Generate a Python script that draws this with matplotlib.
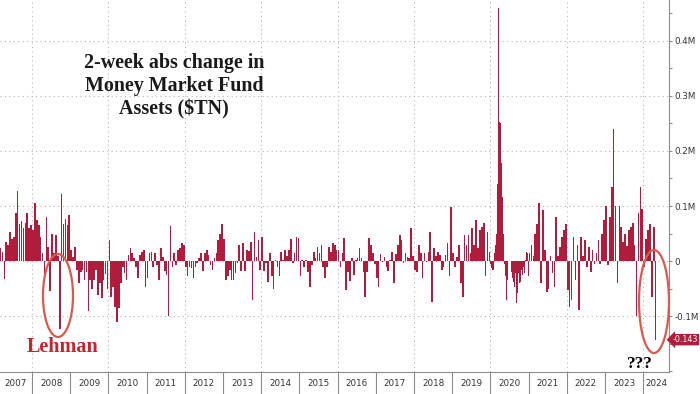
import numpy as np
import matplotlib
matplotlib.use("Agg")
import matplotlib.pyplot as plt
from matplotlib.patches import Ellipse
from matplotlib.transforms import blended_transform_factory

# 2-week absolute change in money market fund assets
# (one value per ~2.5 weeks; 2020 a bit finer to keep the March spike)
y2007 = [0.023, 0.017, -0.032, 0.035, 0.03, 0.053, 0.04, 0.044, 0.087, 0.127,
         0.068, 0.072, 0.06, 0.07, 0.087, 0.06, 0.066]
y2008 = [0.056, 0.105, 0.075, 0.065, 0.044, 0.014, -0.037, 0.08, 0.025, -0.055,
         0.05, 0.014, 0.047, 0.01, -0.124, 0.122, 0.068, 0.077, 0.065, 0.084]
y2009 = [0.02, 0.008, 0.025, -0.016, -0.04, -0.02, -0.016, -0.035, -0.02, -0.09,
         -0.034, -0.05, -0.034, -0.016, -0.062, -0.04, -0.067, -0.035, -0.024, -0.05]
y2010 = [0.038, -0.065, -0.047, -0.083, -0.11, -0.086, -0.04, -0.01, -0.022, -0.035,
         0.011, 0.023, 0.014, 0.005, -0.01, -0.031, 0.011, 0.017, 0.02, -0.047]
y2011 = [-0.031, 0.014, 0.017, -0.01, 0.014, -0.007, -0.034, 0.023, 0.008, -0.019,
         -0.025, -0.1, 0.063, -0.01, 0.014, -0.007, 0.02, 0.023, 0.032, 0.029]
y2012 = [-0.01, -0.028, -0.01, -0.012, -0.031, -0.01, -0.004, 0.005, 0.014, -0.019,
         0.014, 0.02, 0.011, -0.008, -0.016, 0.005, 0.014, 0.038, 0.05, 0.068]
y2013 = [0.04, -0.035, -0.028, -0.016, -0.035, -0.034, -0.022, -0.004, 0.029, -0.019,
         0.032, -0.019, 0.02, 0.018, 0.035, -0.071, 0.053, 0.008, 0.038, -0.016]
y2014 = [0.044, -0.019, -0.004, -0.038, 0.014, -0.028, -0.05, 0.002, -0.01, -0.028,
         0.017, 0.002, 0.02, 0.01, 0.02, 0.04, -0.004, 0.014, 0.044, 0.041]
y2015 = [-0.028, 0.002, -0.01, 0.001, -0.02, -0.047, -0.007, 0.017, 0.005, 0.026,
         0.014, 0.029, -0.01, -0.03, -0.01, 0.026, 0.017, 0.032, 0.029, 0.02]
y2016 = [0.02, -0.01, 0.015, 0.041, -0.053, -0.02, -0.037, 0.005, -0.025, 0.002,
         0.005, 0.023, 0.005, -0.02, -0.065, -0.02, 0.041, 0.03, 0.015, -0.005]
y2017 = [-0.03, -0.047, 0.012, -0.002, 0.008, -0.01, -0.018, 0.002, 0.017, -0.04,
         0.012, 0.03, 0.047, 0.038, -0.004, 0.015, 0.008, 0.005, 0.06, 0.01]
y2018 = [-0.016, -0.02, 0.029, 0.014, -0.03, 0.014, -0.002, 0.017, 0.053, -0.074,
         0.023, 0.01, 0.017, 0.011, -0.016, -0.01, 0.011, 0.032, -0.028, 0.099]
y2019 = [0.014, -0.01, 0.008, 0.029, -0.04, -0.065, 0.047, 0.029, 0.047, 0.014,
         0.06, 0.03, 0.075, 0.023, 0.056, 0.062, 0.07, -0.028, 0.053, 0.017]
y2020 = [-0.005, -0.013, -0.016, -0.016, 0.014, 0.03, 0.05, 0.14, 0.46, 0.253,
         0.25, 0.178, 0.117, 0.05, -0.005, -0.028, -0.071, -0.035, -0.022, -0.059,
         -0.086, -0.047, -0.02, -0.03, -0.038, -0.047, -0.022, -0.077, -0.059, -0.022,
         -0.04, -0.038, -0.016, -0.025, -0.01, -0.022, 0.002, 0.017, 0.014, -0.028]
y2021 = [0.014, 0.03, 0.01, 0.05, 0.068, 0.105, -0.04, 0.093, 0.02, -0.056,
         -0.05, 0.01, -0.022, -0.047, 0.08, 0.01, 0.025, 0.044, 0.056, 0.068]
y2022 = [-0.053, -0.083, -0.071, 0.044, -0.035, 0.03, -0.089, 0.044, 0.01, 0.038,
         -0.01, 0.025, -0.02, 0.02, -0.005, 0.015, 0.038, -0.005, 0.05, 0.075]
y2023 = [0.1, -0.008, 0.08, 0.135, 0.24, 0.1, -0.04, 0.1, 0.062, 0.035,
         0.05, 0.028, 0.056, 0.062, 0.07, 0.03, -0.1, 0.087, 0.135, 0.095]
y2024 = [-0.01, 0.04, 0.056, 0.068, -0.065, 0.062, -0.143]

yearly = [(2007, y2007), (2008, y2008), (2009, y2009), (2010, y2010),
          (2011, y2011), (2012, y2012), (2013, y2013), (2014, y2014),
          (2015, y2015), (2016, y2016), (2017, y2017), (2018, y2018),
          (2019, y2019), (2020, y2020), (2021, y2021), (2022, y2022),
          (2023, y2023), (2024, y2024)]
last_value = y2024[-1]

BAR = "#b01c3c"
GRID = "#b4b4b4"
AXIS = "#8c8c8c"
XMIN, XMAX = 2007.162, 2024.675


def positions(year, vals):
    n = len(vals)
    idx = np.arange(n)
    if year == 2007:
        return 2008 - 0.05 * (n - idx - 0.5), 0.05
    step = 0.05 if year == 2024 else 1.0 / n
    return year + step * (idx + 0.5), step


fig = plt.figure(figsize=(7, 3.94), dpi=100)
ax = fig.add_axes([0, 0.0558, 669 / 700, 1 - 0.0558])

for year, vals in yearly:
    xs, step = positions(year, vals)
    ax.bar(xs, vals, width=step * 0.85, color=BAR, linewidth=0)

ax.set_xlim(XMIN, XMAX)
ax.set_ylim(-0.2018, 0.4745)

# y axis on the right
ax.yaxis.tick_right()
major = [-0.2, -0.1, 0, 0.1, 0.2, 0.3, 0.4]
ax.set_yticks(major)
ax.set_yticklabels(["", "-0.1M", "0", "0.1M", "0.2M", "0.3M", "0.4M"])
ax.set_yticks(np.arange(-0.15, 0.46, 0.1), minor=True)
ax.tick_params(axis="y", which="both", direction="out", length=2.5, width=0.8,
               color=AXIS, labelsize=6.3, labelcolor="#333333", pad=1.5)
for v in major[1:]:
    ax.axhline(v, color=GRID, lw=0.8, ls=(0, (1, 3)), zorder=0)

# x axis: year separators as major ticks, labels centred in each year
years = list(range(2007, 2025))
ax.set_xticks(years[1:])
ax.set_xticklabels([])
mids = [(max(y, XMIN) + min(y + 1, XMAX)) / 2 for y in years]
ax.set_xticks(mids, minor=True)
ax.set_xticklabels([str(y) for y in years], minor=True)
ax.tick_params(axis="x", which="major", direction="out", length=16, width=0.8,
               color=AXIS)
ax.tick_params(axis="x", which="minor", length=0, labelsize=6.3,
               labelcolor="#333333", pad=5)
for y in years[1:]:
    if y % 2 == 0:
        ax.axvline(y, color=GRID, lw=0.8, ls=(0, (1, 3)), zorder=0)

for side in ["left", "top"]:
    ax.spines[side].set_visible(False)
ax.spines["right"].set_color(AXIS)
ax.spines["bottom"].set_color(AXIS)
ax.spines["right"].set_linewidth(0.8)
ax.spines["bottom"].set_linewidth(0.8)

# last value tag, flush with the right edge of the figure
tr = blended_transform_factory(fig.transFigure, ax.transData)
ax.text(698 / 700, last_value, f"{last_value:.3f}", transform=tr, ha="right",
        va="center", color="white", fontsize=5.8, clip_on=False,
        bbox=dict(boxstyle="larrow,pad=0.15", fc=BAR, ec="none"))

# annotations
fig.text(174 / 700, 1 - 86 / 394, "2-week abs change in\nMoney Market Fund\nAssets ($TN)",
         ha="center", va="center", fontsize=14.4, fontweight="bold",
         family="Liberation Serif", color="#1a1a1a", linespacing=1.2)
fig.text(63 / 700, 1 - 347 / 394, "Lehman", ha="center", va="center",
         fontsize=14.5, fontweight="bold", family="Liberation Serif",
         color="#c4262e")
fig.text(640 / 700, 1 - 364 / 394, "???", ha="center", va="center",
         fontsize=12.5, fontweight="bold", family="Liberation Serif", color="black")

for cx, cy, w, h in [(58, 295.5, 30, 83), (654, 301.5, 30, 103)]:
    fig.add_artist(Ellipse((cx / 700, 1 - cy / 394), w / 700, h / 394,
                           transform=fig.transFigure, fill=False,
                           ec="#d9594f", lw=1.6))

fig.savefig("out.png", dpi=100)
